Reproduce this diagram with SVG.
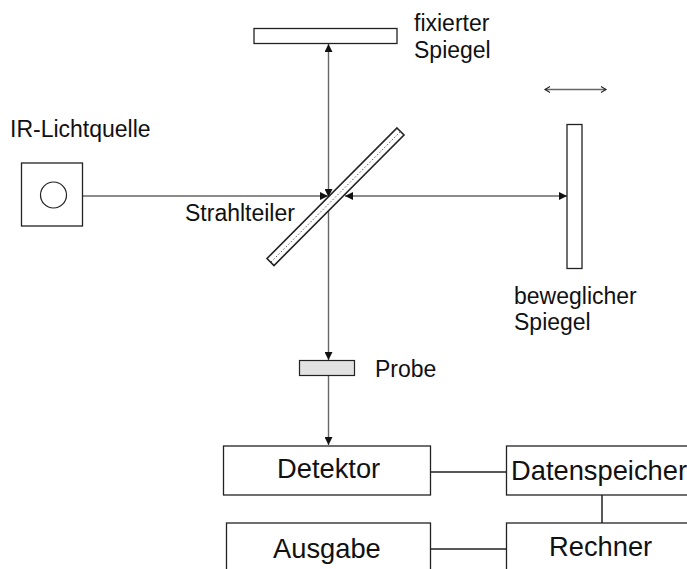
<svg xmlns="http://www.w3.org/2000/svg" width="687" height="569" viewBox="0 0 687 569">
<style>
text{font-family:"Liberation Sans",Arial,sans-serif;fill:#111}
.s{font-size:23px}
.b{font-size:27.300px}
.box{fill:#fff;stroke:#222;stroke-width:1.3}
.ln{fill:none;stroke:#666;stroke-width:1.4}
.k{fill:none;stroke:#222;stroke-width:1.5}
</style>
<defs>
<marker id="a" markerWidth="10" markerHeight="8" refX="8" refY="4" orient="auto-start-reverse" markerUnits="userSpaceOnUse"><path d="M0 0L8 4L0 8Z" fill="#111"/></marker>
<marker id="o" markerWidth="8" markerHeight="8" refX="6" refY="4" orient="auto-start-reverse" markerUnits="userSpaceOnUse"><path d="M1 1L6 4L1 7" fill="none" stroke="#222" stroke-width="1.1"/></marker>
</defs>
<g id="connectors">
<path class="ln" d="M328.500 44V197" marker-start="url(#a)" marker-end="url(#a)"/>
<path class="ln" d="M67 196H328" marker-end="url(#a)"/>
<path class="ln" d="M345 196H567" marker-start="url(#a)" marker-end="url(#a)"/>
<path class="ln" d="M328.500 197V360" marker-end="url(#a)"/>
<path class="ln" d="M328.500 376V445" marker-end="url(#a)"/>
<path class="ln" d="M545 89.500H606" marker-start="url(#o)" marker-end="url(#o)"/>
<path class="k" d="M431 472H506M431 549H506M602 495V523"/>
</g>
<g id="fixed-mirror"><rect class="box" x="254" y="28.500" width="143" height="15"/><text class="s" x="414" y="31">fixierter</text><text class="s" x="414" y="58">Spiegel</text></g>
<g id="moving-mirror"><rect class="box" x="567" y="124.500" width="15" height="144"/><text class="s" x="514" y="304">beweglicher</text><text class="s" x="514" y="330">Spiegel</text></g>
<g id="source"><text class="s" x="10" y="137">IR-Lichtquelle</text><rect class="box" x="21.500" y="163" width="61" height="63"/><circle cx="53.500" cy="195" r="13" fill="none" stroke="#222" stroke-width="1.2"/></g>
<g id="splitter"><path class="box" style="stroke-width:1.6" d="M397 128L404 135L274 265.500L267 258.500Z"/><path d="M271 262L400.500 131.500" fill="none" stroke="#555" stroke-width="1" stroke-dasharray="1.500 2"/><text class="s" x="185" y="221">Strahlteiler</text></g>
<g id="sample"><rect x="299.500" y="360.500" width="55" height="15" fill="#e2e2e2" stroke="#222" stroke-width="1.200"/><text class="s" x="375" y="377">Probe</text></g>
<g id="detector"><rect class="box" x="223.500" y="446" width="207" height="49"/><text class="b" x="277" y="478">Detektor</text></g>
<g id="storage"><rect class="box" x="506.500" y="446" width="190" height="49"/><text class="b" x="511" y="480">Datenspeicher</text></g>
<g id="output"><rect class="box" x="226.500" y="523" width="204" height="60"/><text class="b" x="273" y="558">Ausgabe</text></g>
<g id="computer"><rect class="box" x="506.500" y="523" width="190" height="60"/><text class="b" x="549" y="556">Rechner</text></g>
</svg>
